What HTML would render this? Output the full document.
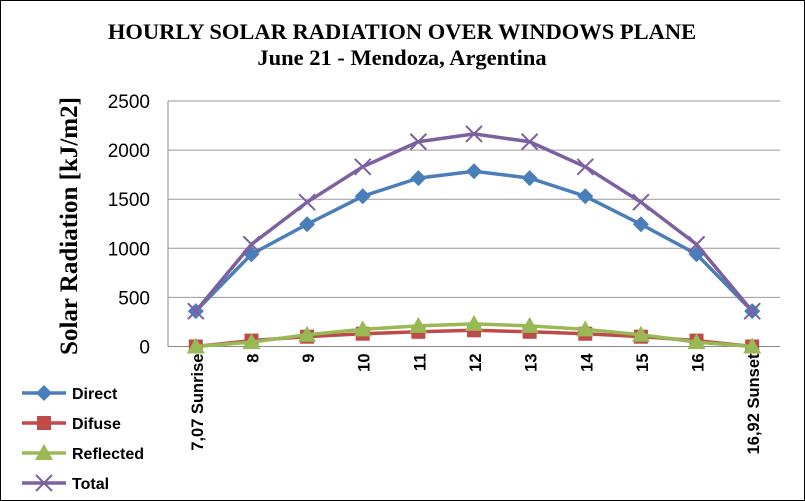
<!DOCTYPE html>
<html><head><meta charset="utf-8"><style>
body{margin:0;background:#fff}
svg{display:block;font-family:"Liberation Sans",sans-serif}
</style></head><body>
<svg width="805" height="501" xmlns="http://www.w3.org/2000/svg">
<rect x="0.5" y="0.5" width="804" height="500" fill="#fff" stroke="#000"/>
<text x="402" y="39" text-anchor="middle" font-family="Liberation Serif,serif" font-weight="bold" font-size="22.5">HOURLY SOLAR RADIATION OVER WINDOWS PLANE</text>
<text x="402" y="65" text-anchor="middle" font-family="Liberation Serif,serif" font-weight="bold" font-size="22.5">June 21 - Mendoza, Argentina</text>
<text transform="translate(77,226) rotate(-90)" text-anchor="middle" font-family="Liberation Serif,serif" font-weight="bold" font-size="25">Solar Radiation [kJ/m2]</text>
<g id="grid"></g><g id="series"></g><g id="ticks"></g><g id="legend"></g>
</svg>
<script>
const categories=["7,07 Sunrise","8","9","10","11","12","13","14","15","16","16,92 Sunset"];
const direct=[360,940,1245,1530,1715,1785,1715,1530,1245,940,360];
const difuse=[0,60,100,130,150,165,150,130,100,60,0];
const reflected=[0,45,120,175,210,230,210,175,120,45,0];
const total=[360,1040,1470,1830,2085,2165,2085,1830,1470,1040,360];
const yTicks=[0,500,1000,1500,2000,2500];
const NS="http://www.w3.org/2000/svg";
const L=168,R=780,T=101,B=346.5,yMax=2500;
const xs=i=>L+(R-L)/categories.length*(i+0.5);
const ys=v=>B-(v/yMax)*(B-T);
function mk(t,a,p){const e=document.createElementNS(NS,t);for(const k in a)e.setAttribute(k,a[k]);p.appendChild(e);return e;}
const grid=document.getElementById('grid'),ticks=document.getElementById('ticks');
yTicks.forEach(v=>{
 const l=mk('line',{x1:L,x2:R,y1:ys(v),y2:ys(v),stroke:v===0?'#888':'#999','stroke-width':1},grid);
 
 
 const t=mk('text',{x:L-18,y:ys(v)+7,'text-anchor':'end','font-size':19},ticks);t.textContent=v;
 
 
});
const ax=mk('line',{x1:L,x2:L,y1:T,y2:B,stroke:'#888'},grid);


categories.forEach((c,i)=>{
 const t=mk('text',{transform:`translate(${xs(i)+7},${B+7}) rotate(-90)`,'text-anchor':'end','font-size':16.5,'font-weight':'bold'},ticks);t.textContent=c;
 
 
});
function marker(g,type,x,y,col){
 if(type==='diamond')return mk('polygon',{points:`${x},${y-8} ${x+8},${y} ${x},${y+8} ${x-8},${y}`,fill:col},g);
 if(type==='square')return mk('rect',{x:x-7,y:y-7,width:14,height:14,fill:col},g);
 if(type==='tri')return mk('polygon',{points:`${x},${y-9} ${x+9},${y+7} ${x-9},${y+7}`,fill:col},g);
 return mk('path',{d:`M${x-8},${y-8}L${x+8},${y+8}M${x-8},${y+8}L${x+8},${y-8}`,stroke:col,'stroke-width':2},g);
}
const series=[["direct",direct,"#4a7ebb","diamond"],["difuse",difuse,"#be4b48","square"],["reflected",reflected,"#98b954","tri"],["total",total,"#7d60a0","x"]];
const sg=document.getElementById('series');
series.forEach(([n,d,col,m])=>{
 const g=mk('g',{},sg);
 
 
 const p=mk('polyline',{points:d.map((v,i)=>xs(i)+','+ys(v)).join(' '),fill:'none',stroke:col,'stroke-width':3.5},g);
 
 
 d.forEach((v,i)=>{const e=marker(g,m,xs(i),ys(v),col);
  
  });
});
const lg=document.getElementById('legend');
const names=["Direct","Difuse","Reflected","Total"];
series.forEach(([n,d,col,m],i)=>{
 const y=393+i*30;
 const g=mk('g',{},lg);
 
 
 mk('line',{x1:22,x2:66,y1:y,y2:y,stroke:col,'stroke-width':3.5},g);
 marker(g,m,44,y,col);
 const t=mk('text',{x:72,y:y+6,'font-size':16,'font-weight':'bold'},g);t.textContent=names[i];
});
</script>
</body></html>
